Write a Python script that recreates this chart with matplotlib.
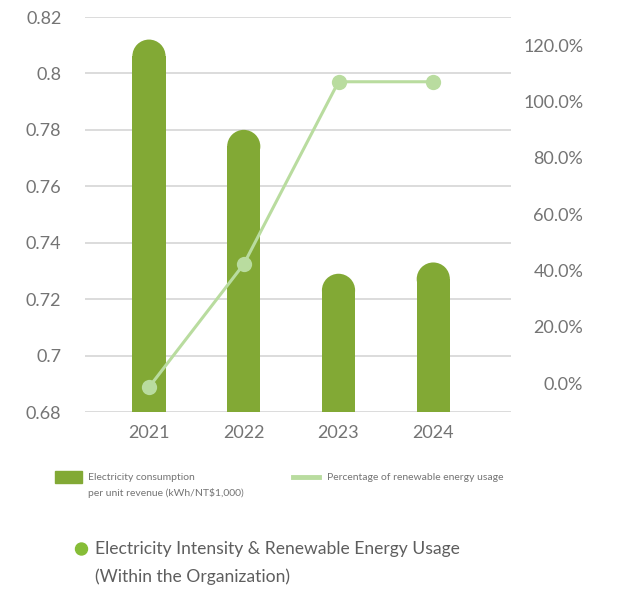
import matplotlib
matplotlib.use("Agg")
import matplotlib.pyplot as plt
from matplotlib.patches import Ellipse, Rectangle
from matplotlib.lines import Line2D

plt.rcParams['font.family'] = ['Lato', 'DejaVu Sans']

years = ["2021", "2022", "2023", "2024"]
intensity = [0.812, 0.780, 0.729, 0.733]        # kWh/NT$1,000
renewable_pct = [-1.5, 42.2, 107.0, 107.0]      # %
left_ticks = [0.68, 0.7, 0.72, 0.74, 0.76, 0.78, 0.8, 0.82]
left_labels = ["0.68", "0.7", "0.72", "0.74", "0.76", "0.78", "0.8", "0.82"]
right_ticks = [0, 20, 40, 60, 80, 100, 120]
right_labels = ["0.0%", "20.0%", "40.0%", "60.0%", "80.0%", "100.0%", "120.0%"]

bar_color = "#82a935"
line_color = "#b9dc9f"
grid_color = "#d2d2d2"
text_color = "#747474"

W, H = 626, 590
fig = plt.figure(figsize=(W / 100, H / 100), dpi=100)
ax_l, ax_r, ax_b, ax_t = 85, 511, 412, 17
ax = fig.add_axes([ax_l / W, 1 - ax_b / H, (ax_r - ax_l) / W, (ax_b - ax_t) / H])

xs = list(range(len(years)))
ax.set_xlim(-0.675, 3.82)
ax.set_ylim(0.68, 0.82)

# rounded bars: straight body + elliptical cap so the top is a half circle on screen
bw = 0.35
px_per_x = (ax_r - ax_l) / (3.82 + 0.675)
px_per_y = (ax_b - ax_t) / 0.14
r_px = bw * px_per_x / 2
r_y = r_px / px_per_y
for x, v in zip(xs, intensity):
    ax.bar(x, v - r_y - 0.68, bottom=0.68, width=bw, color=bar_color, zorder=2, linewidth=0)
    ax.add_patch(Ellipse((x, v - r_y), bw, 2 * r_y, color=bar_color, zorder=2, linewidth=0))

ax.set_yticks(left_ticks)
ax.set_yticklabels(left_labels)
ax.set_xticks(xs)
ax.set_xticklabels(years)
ax.tick_params(axis="y", length=0, pad=17, labelsize=13, labelcolor=text_color)
ax.tick_params(axis="x", length=0, pad=9, labelsize=13, labelcolor=text_color)
for t in left_ticks:
    ax.axhline(t, color=grid_color, linewidth=1.1, zorder=1)
for s in ax.spines.values():
    s.set_visible(False)

ax2 = ax.twinx()
ax2.set_ylim(-10.3, 130)
ax2.plot(xs, renewable_pct, color=line_color, linewidth=2.2, marker="o",
         markersize=11, markeredgewidth=0, zorder=3)
ax2.set_yticks(right_ticks)
ax2.set_yticklabels(right_labels)
ax2.tick_params(axis="y", length=0, pad=52, labelsize=13, labelcolor=text_color)
for lab in ax2.get_yticklabels():
    lab.set_horizontalalignment("right")
for s in ax2.spines.values():
    s.set_visible(False)

# legend drawn in figure pixels
def fx(px):
    return px / W

def fy(py):
    return 1 - py / H

fig.patches.append(Rectangle((fx(55), fy(483)), fx(27), 12 / H, color=bar_color,
                             transform=fig.transFigure, figure=fig))
fig.text(fx(88), fy(477), "Electricity consumption", fontsize=7.5, color=text_color, va="center")
fig.text(fx(88), fy(493), "per unit revenue (kWh/NT$1,000)", fontsize=7.5, color=text_color, va="center")
fig.lines.append(Line2D([fx(293), fx(319)], [fy(477), fy(477)], color=line_color,
                        linewidth=3.5, transform=fig.transFigure, figure=fig))
fig.text(fx(327), fy(477), "Percentage of renewable energy usage", fontsize=7.5,
         color=text_color, va="center")

# chart title with bullet
fig.patches.append(Ellipse((fx(81.5), fy(549)), 12 / W, 12 / H, color="#86bd37",
                           transform=fig.transFigure, figure=fig))
fig.text(fx(95), fy(549), "Electricity Intensity & Renewable Energy Usage", fontsize=12.6,
         color="#5e5e5e", va="center")
fig.text(fx(95), fy(577), "(Within the Organization)", fontsize=12.6, color="#5e5e5e", va="center")

fig.savefig("out.png", dpi=100)
